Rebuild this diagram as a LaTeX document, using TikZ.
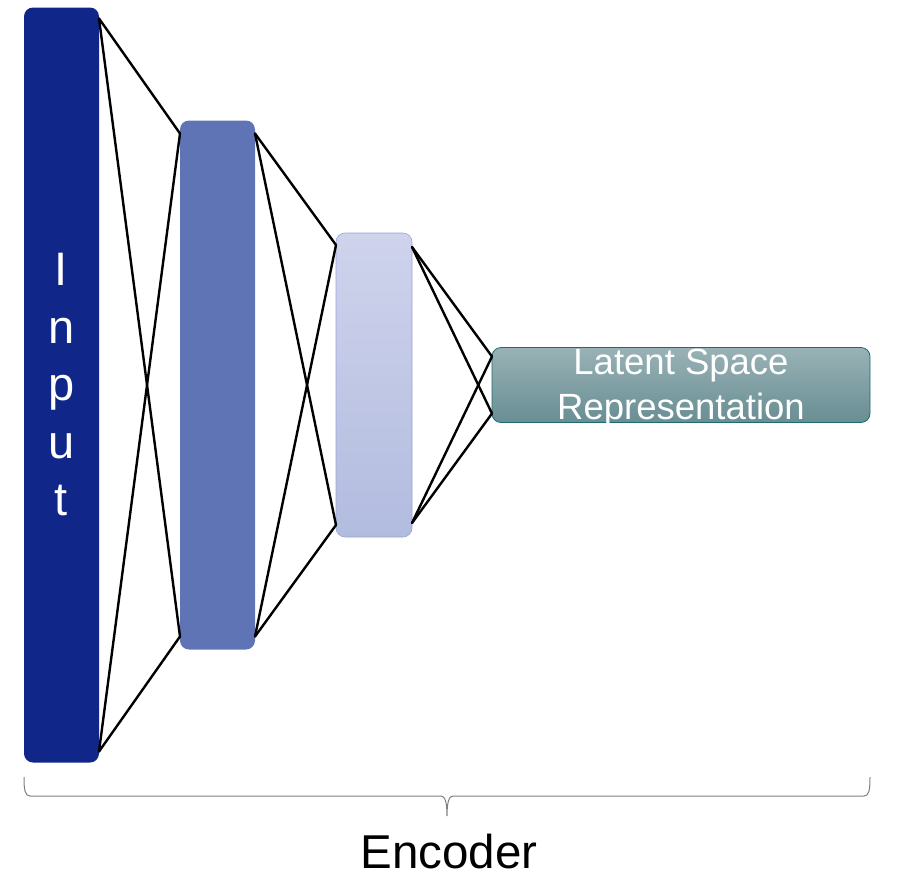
\documentclass[tikz,border=0pt]{standalone}
\usepackage{fontspec}
\setmainfont{Liberation Sans}
\usetikzlibrary{positioning,calc}
\definecolor{inputblue}{RGB}{16,38,136}
\definecolor{midblue}{RGB}{95,116,181}
\definecolor{lighttop}{RGB}{207,211,236}
\definecolor{lightbot}{RGB}{178,188,223}
\definecolor{lightborder}{RGB}{150,165,214}
\definecolor{lattop}{RGB}{153,178,181}
\definecolor{latbot}{RGB}{104,142,148}
\definecolor{latborder}{RGB}{30,107,112}
\definecolor{bracegray}{RGB}{127,127,127}
\begin{document}
\begin{tikzpicture}[x=1pt,y=-1pt,
    layer/.style={rectangle,rounded corners=9pt,minimum width=75pt,inner sep=0pt,outer sep=0pt},
    link/.style={line width=2.4pt,black,line cap=round},
    brace/.style={line width=1pt,bracegray}]
  \useasboundingbox (0,0) rectangle (902,887);

  % layers of the encoder
  \node[layer,fill=inputblue,minimum height=755pt,text=white,align=center,
        font=\fontsize{47}{57.5}\selectfont] (inp) at (61.5,385) {I\\n\\p\\u\\t};
  \node[layer,fill=midblue,minimum height=529pt,right=81pt of inp] (hidA) {};
  \node[layer,draw=lightborder,line width=0.6pt,top color=lighttop,bottom color=lightbot,
        minimum width=76pt,minimum height=304pt,right=81pt of hidA] (hidB) {};
  \node[layer,draw=latborder,line width=0.8pt,top color=lattop,bottom color=latbot,
        minimum width=378pt,minimum height=75pt,right=80pt of hidB] (lat) {};
  \begin{scope}
    \clip[rounded corners=9pt] (lat.south west) rectangle (lat.north east);
    \node[text=white,align=center,font=\fontsize{36.5}{45}\selectfont,yshift=-3pt]
      (latlbl) at (lat.center) {Latent Space\\Representation};
  \end{scope}

  % full connections between neighbouring layers
  \foreach \s/\t/\ds/\dt in {inp/hidA/11/13, hidA/hidB/13/12, hidB/lat/14/9}
  {
    \draw[link] ($(\s.north east)+(0,\ds)$) -- ($(\t.north west)+(0,\dt)$);
    \draw[link] ($(\s.north east)+(0,\ds)$) -- ($(\t.south west)+(0,-\dt)$);
    \draw[link] ($(\s.south east)+(0,-\ds)$) -- ($(\t.north west)+(0,\dt)$);
    \draw[link] ($(\s.south east)+(0,-\ds)$) -- ($(\t.south west)+(0,-\dt)$);
  }

  % brace
  \draw[brace] (24,777) .. controls (24,790) and (25,796) .. (30,796) -- (441,796)
    .. controls (445,796) and (447,802) .. (447,816)
    .. controls (447,802) and (449,796) .. (453,796) -- (864,796)
    .. controls (869,796) and (870,790) .. (870,777);
  \node[font=\fontsize{47.5}{55}\selectfont,anchor=base] (enc) at (449,868) {Encoder};
\end{tikzpicture}
\end{document}
